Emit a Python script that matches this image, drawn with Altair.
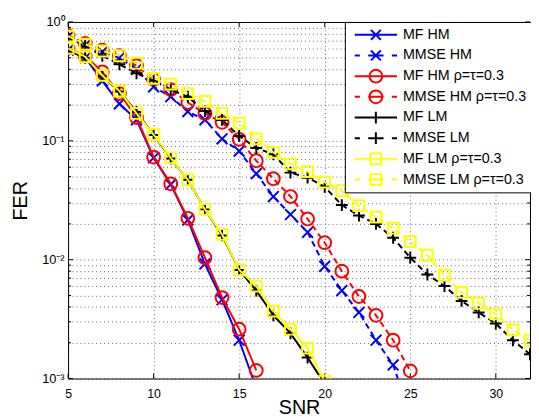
import altair as alt
import pandas as pd

# ---------------- data ----------------
labels = ["MF HM", "MMSE HM", "MF HM ρ=τ=0.3", "MMSE HM ρ=τ=0.3",
          "MF LM", "MMSE LM", "MF LM ρ=τ=0.3", "MMSE LM ρ=τ=0.3"]
colors = ["#0000ff", "#0000ff", "#ff0000", "#ff0000",
          "#000000", "#000000", "#ffff00", "#ffff00"]
dashed = [False, True, False, True, False, True, False, True]
markers = ["x", "x", "o", "o", "+", "+", "s", "s"]

snr_mf_hm = list(range(5, 17))
snr_mmse_hm = list(range(5, 26))
snr_mf_lm = list(range(5, 21))
snr_mmse_lm = list(range(5, 33))

fer_mf_hm = [0.58, 0.50, 0.32, 0.205, 0.150, 0.072, 0.043, 0.0216, 0.0092,
             0.0046, 0.0021, 0.00083]
fer_mmse_hm = [0.75, 0.64, 0.56, 0.50, 0.40, 0.285, 0.235, 0.176, 0.150, 0.104,
               0.082, 0.053, 0.034, 0.024, 0.017, 0.0088, 0.0055, 0.0036,
               0.0021, 0.0013, 0.0005]
fer_mf_hm_r = [0.60, 0.52, 0.38, 0.25, 0.157, 0.073, 0.0435, 0.0223, 0.0104,
               0.0048, 0.0026, 0.00117]
fer_mmse_hm_r = [0.77, 0.66, 0.58, 0.52, 0.43, 0.33, 0.27, 0.21, 0.17, 0.143,
                 0.103, 0.068, 0.048, 0.034, 0.022, 0.0139, 0.0080, 0.0049,
                 0.0034, 0.0021, 0.00116]
fer_mf_lm = [0.58, 0.50, 0.35, 0.26, 0.175, 0.112, 0.071, 0.047, 0.0265, 0.016,
             0.0082, 0.0055, 0.0034, 0.0024, 0.0015, 0.0009]
fer_mmse_lm = [0.74, 0.63, 0.52, 0.44, 0.37, 0.32, 0.27, 0.235, 0.178, 0.150,
               0.110, 0.087, 0.077, 0.054, 0.049, 0.041, 0.0288, 0.0235, 0.020,
               0.0153, 0.0104, 0.0075, 0.0060, 0.0045, 0.0036, 0.0029, 0.0021,
               0.0016]
fer_mf_lm_r = [0.60, 0.51, 0.355, 0.262, 0.17, 0.113, 0.072, 0.047, 0.0265,
               0.0163, 0.0082, 0.006, 0.0037, 0.0026, 0.0018, 0.00095]
fer_mmse_lm_r = [0.76, 0.65, 0.57, 0.52, 0.45, 0.335, 0.30, 0.25, 0.215, 0.17,
                 0.141, 0.104, 0.080, 0.064, 0.055, 0.045, 0.038, 0.0285,
                 0.0228, 0.0184, 0.0142, 0.0109, 0.0074, 0.0053, 0.0043,
                 0.0035, 0.00257, 0.0021]

series_x = [snr_mf_hm, snr_mmse_hm, snr_mf_hm, snr_mmse_hm,
            snr_mf_lm, snr_mmse_lm, snr_mf_lm, snr_mmse_lm]
series_y = [fer_mf_hm, fer_mmse_hm, fer_mf_hm_r, fer_mmse_hm_r,
            fer_mf_lm, fer_mmse_lm, fer_mf_lm_r, fer_mmse_lm_r]

x_ticks = [5, 10, 15, 20, 25, 30]
y_major = [0.001, 0.01, 0.1, 1]
y_minor = [m * d for d in [0.001, 0.01, 0.1] for m in range(2, 10)]

# ---------------- style ----------------
W, H = 469, 362
FONT = "Liberation Sans"

marker_shape = {"x": "M-1,-1L1,1M-1,1L1,-1", "+": "M-1,0H1M0,-1V1",
                "o": "circle", "s": "square"}
marker_size = {"x": 121, "+": 144, "o": 169, "s": 121}

leg_marker = {"x": "M-0.77,-0.77L0.77,0.77M-0.77,0.77L0.77,-0.77",
              "+": "M-0.92,0H0.92M0,-0.92V0.92",
              "o": "M1,0A1,1 0 1,1 -1,0A1,1 0 1,1 1,0Z",
              "s": "M-0.85,-0.85H0.85V0.85H-0.85Z"}


def leg_path(m, d):
    line = "M-3.3,0H-2.5M-1.2,0H1.2M2.5,0H3.3" if d else "M-3.3,0H3.3"
    return line + leg_marker[m]


leg_paths = [leg_path(m, d) for m, d in zip(markers, dashed)]

xscale = alt.Scale(domain=[5, 32], nice=False, zero=False)
yscale = alt.Scale(type="log", domain=[0.001, 1], nice=False)

grid_kw = dict(grid=True, gridColor="#000000", gridOpacity=0.6,
               gridDash=[1, 3], gridWidth=1, ticks=False, domain=False,
               labelFont=FONT, labelColor="black",
               labelFlush=False, labelOverlap=False,
               titleFont=FONT, titleFontSize=20, titleFontWeight="normal",
               titleColor="black")

xaxis = alt.Axis(values=x_ticks, labelPadding=9, labelFontSize=12.5,
                 title="SNR", titleX=W / 2, titleY=35.5, titleAlign="center",
                 titleBaseline="alphabetic", **grid_kw)
label_expr = ("datum.value == 1 ? '10⁰' : datum.value == 0.1 ? '10⁻¹' : "
              "datum.value == 0.01 ? '10⁻²' : datum.value == 0.001 ? '10⁻³' : ''")
yaxis = alt.Axis(values=y_major + y_minor, labelExpr=label_expr,
                 labelPadding=4, labelFontSize=13, labelBaseline="middle",
                 title="FER", titleX=-48, titleY=H / 2, titleAngle=270,
                 titleAlign="center", titleBaseline="middle", **grid_kw)


def X():
    return alt.X("snr:Q", scale=xscale, axis=xaxis)


def Y():
    return alt.Y("fer:Q", scale=yscale, axis=yaxis)


layers = []

# inward tick marks (box style)
ymaj_df = pd.DataFrame({"fer": y_major})
ymin_df = pd.DataFrame({"fer": y_minor})
xt_df = pd.DataFrame({"snr": x_ticks})
for df, ln in [(ymaj_df, 5), (ymin_df, 3)]:
    layers.append(alt.Chart(df).mark_rule(color="black", strokeWidth=1).encode(
        y=Y(), x=alt.value(0), x2=alt.value(ln)))
    layers.append(alt.Chart(df).mark_rule(color="black", strokeWidth=1).encode(
        y=Y(), x=alt.value(W), x2=alt.value(W - ln)))
layers.append(alt.Chart(xt_df).mark_rule(color="black", strokeWidth=1).encode(
    x=X(), y=alt.value(H), y2=alt.value(H - 5)))
layers.append(alt.Chart(xt_df).mark_rule(color="black", strokeWidth=1).encode(
    x=X(), y=alt.value(0), y2=alt.value(5)))

# data series, MATLAB drawing order
for i in range(len(labels)):
    df = pd.DataFrame({"snr": series_x[i], "fer": series_y[i]})
    line_kw = dict(color=colors[i], strokeWidth=2, clip=True)
    if dashed[i]:
        line_kw["strokeDash"] = [6, 4]
    layers.append(alt.Chart(df).mark_line(**line_kw).encode(x=X(), y=Y()))
    m = markers[i]
    layers.append(alt.Chart(df).mark_point(
        shape=marker_shape[m], size=marker_size[m], filled=False,
        color=colors[i], strokeWidth=2, opacity=1, clip=True
    ).encode(x=X(), y=Y()))

# legend
leg = alt.Legend(title=None, orient="none", legendX=281, legendY=0,
                 fillColor="white", strokeColor="black", padding=5,
                 labelFont=FONT, labelFontSize=14.5, labelColor="black",
                 symbolSize=169, symbolStrokeWidth=2, symbolOffset=19,
                 labelOffset=20, rowPadding=5, clipHeight=16, symbolOpacity=1)
leg_df = pd.DataFrame({"series": labels})
layers.append(alt.Chart(leg_df).mark_point(filled=False, strokeWidth=2, opacity=1)
              .encode(color=alt.Color("series:N", scale=alt.Scale(domain=labels, range=colors), legend=leg),
                      shape=alt.Shape("series:N", scale=alt.Scale(domain=labels, range=leg_paths), legend=leg))
              .transform_filter("false"))

chart = alt.layer(*layers).properties(
    width=W, height=H,
    autosize=alt.AutoSizeParams(type="none"),
    padding={"left": 61, "top": 11, "right": 1, "bottom": 45},
    background="white",
).configure_view(stroke="black", strokeWidth=1)

chart.save("out.html", embed_options={"renderer": "svg", "actions": False})
